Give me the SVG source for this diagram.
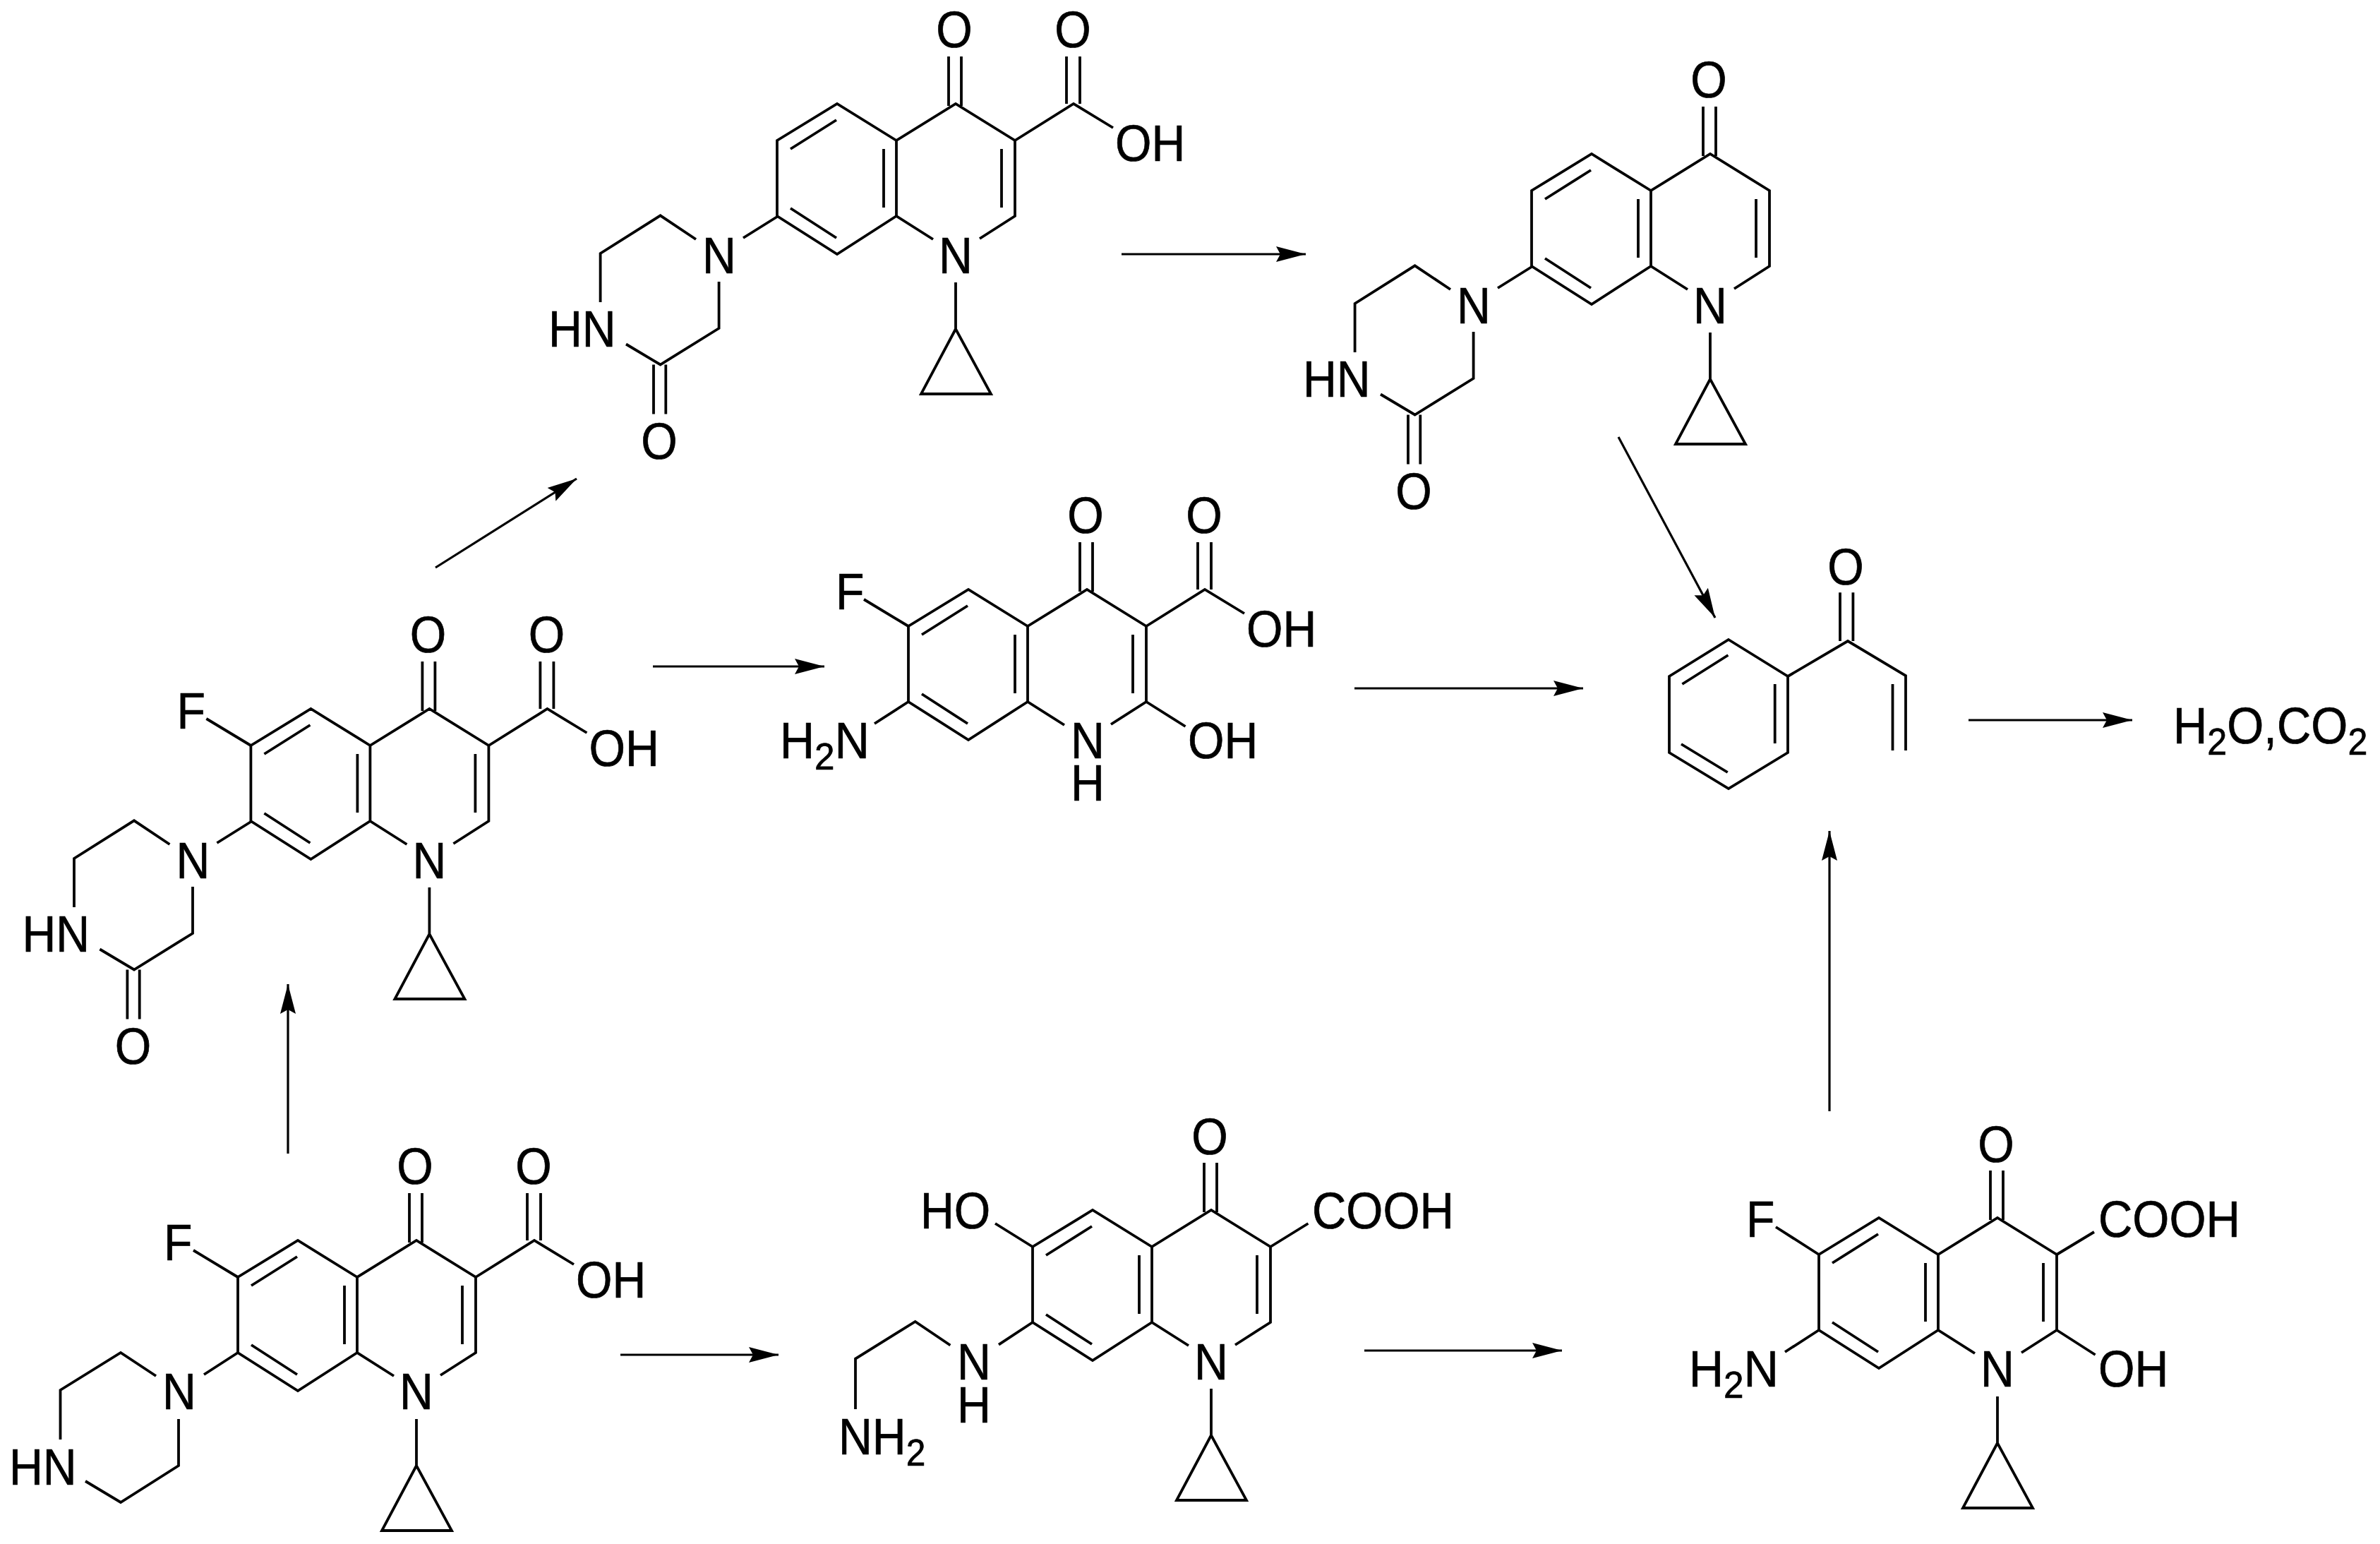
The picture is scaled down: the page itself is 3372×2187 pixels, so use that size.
<svg xmlns="http://www.w3.org/2000/svg" xmlns:xlink="http://www.w3.org/1999/xlink" width="3372" height="2187" viewBox="0 0 3372 2187">
<style>
.b{fill:none;stroke:#000;stroke-width:3.8;stroke-linejoin:miter}
.a{fill:none;stroke:#000;stroke-width:3.2;marker-end:url(#ah)}
.t{font-family:"Liberation Sans",Arial,sans-serif;font-size:72px;fill:#000;stroke:#000;stroke-width:.7}
.m{text-anchor:middle}
.e{text-anchor:end}
.s{font-size:54px}
</style>
<defs>
<marker id="ah" markerUnits="userSpaceOnUse" markerWidth="44" markerHeight="26" refX="42" refY="13" orient="auto"><path d="M0 2L42 13L0 24L6 13Z" fill="#000"/></marker>
<g id="core" class="b">
<path d="M-32 192L-84 159V52L0 0L84 52V159L34 191M-84 52L-168 0L-253 52V159L-168 213L-84 159"/>
<path d="M-234 64L-169 23M-234 148L-169 190M-102 64V147M65 64V147M-10 -67V3M8 -67V3"/>
</g>
<g id="cp" class="b"><path d="M0 253V319M0 319L-49 411H50Z"/></g>
<g id="acid" class="b"><path d="M84 52L167 0L223 34M157 -67V0M176 -67V0"/></g>
<g id="pip" class="b">
<path d="M-253 160L-301 190M-368 192L-418.4 158.3L-503.4 212V281M-335.4 252V318L-418.4 369.5L-467 340.5M-428 369.5V439.6M-410.7 369.5V439.6"/>
</g>
</defs>
<rect width="3372" height="2187" fill="#fff"/>

<g id="connectors">
<path class="a" d="M408 1634V1394"/>
<path class="a" d="M617 804L817 678"/>
<path class="a" d="M925 944H1168"/>
<path class="a" d="M1589 360H1850"/>
<path class="a" d="M1919 975H2243"/>
<path class="a" d="M2293 619L2430 875"/>
<path class="a" d="M2789 1020H3021"/>
<path class="a" d="M2592 1574V1177"/>
<path class="a" d="M879 1919H1103"/>
<path class="a" d="M1933 1913H2213"/>
</g>

<g id="ciprofloxacin" transform="translate(590 1757)">
<use href="#core"/><use href="#cp"/><use href="#acid"/>
<path class="b" d="M-316 14L-253 52M-253 159L-301 190M-369 192L-419 159L-504.500 212V282M-337 253V319L-419 371L-469 341"/>
<text class="t m" transform="translate(-2 -80) scale(.92 1)">O</text>
<text class="t m" transform="translate(166 -80) scale(.92 1)">O</text>
<text class="t" transform="translate(226 81) scale(.92 1)">OH</text>
<text class="t" transform="translate(-358 28) scale(.92 1)">F</text>
<text class="t m" transform="translate(-336 239) scale(.92 1)">N</text>
<text class="t m" transform="translate(0 239) scale(.92 1)">N</text>
<text class="t" transform="translate(-577 346) scale(.92 1)">HN</text>
</g>

<g id="oxopiperazine-fluoro" transform="translate(608.400 1004)">
<use href="#core"/><use href="#cp"/><use href="#acid"/><use href="#pip"/>
<path class="b" d="M-316 14L-253 52"/>
<text class="t m" transform="translate(-2 -80) scale(.92 1)">O</text>
<text class="t m" transform="translate(166 -80) scale(.92 1)">O</text>
<text class="t" transform="translate(226 81) scale(.92 1)">OH</text>
<text class="t" transform="translate(-358 28) scale(.92 1)">F</text>
<text class="t m" transform="translate(-335 240) scale(.92 1)">N</text>
<text class="t m" transform="translate(0 240) scale(.92 1)">N</text>
<text class="t" transform="translate(-577 344) scale(.92 1)">HN</text>
<text class="t m" transform="translate(-420 503) scale(.92 1)">O</text>
</g>

<g id="oxopiperazine-defluoro" transform="translate(1354 147)">
<use href="#core"/><use href="#cp"/><use href="#acid"/><use href="#pip"/>
<text class="t m" transform="translate(-2 -80) scale(.92 1)">O</text>
<text class="t m" transform="translate(166 -80) scale(.92 1)">O</text>
<text class="t" transform="translate(226 81) scale(.92 1)">OH</text>
<text class="t m" transform="translate(-335 240) scale(.92 1)">N</text>
<text class="t m" transform="translate(0 240) scale(.92 1)">N</text>
<text class="t" transform="translate(-577 344) scale(.92 1)">HN</text>
<text class="t m" transform="translate(-420 503) scale(.92 1)">O</text>
</g>

<g id="oxopiperazine-decarboxy" transform="translate(2423 218)">
<use href="#core"/><use href="#cp"/><use href="#pip"/>
<text class="t m" transform="translate(-2 -80) scale(.92 1)">O</text>
<text class="t m" transform="translate(-335 240) scale(.92 1)">N</text>
<text class="t m" transform="translate(0 240) scale(.92 1)">N</text>
<text class="t" transform="translate(-577 344) scale(.92 1)">HN</text>
<text class="t m" transform="translate(-420 503) scale(.92 1)">O</text>
</g>

<g id="amino-hydroxy-nh" transform="translate(1540 835)">
<use href="#core"/><use href="#acid"/>
<path class="b" d="M-316 14L-253 52M-253 159L-301 190M84 159L139.500 194"/>
<text class="t m" transform="translate(-2 -80) scale(.92 1)">O</text>
<text class="t m" transform="translate(166 -80) scale(.92 1)">O</text>
<text class="t" transform="translate(226 81) scale(.92 1)">OH</text>
<text class="t" transform="translate(-356 28) scale(.92 1)">F</text>
<text class="t e" transform="translate(-308 239) scale(.95 1)">H<tspan class="s" dy="16">2</tspan><tspan dy="-16">N</tspan></text>
<text class="t m" transform="translate(1 239) scale(.92 1)">N</text>
<text class="t m" transform="translate(1 299) scale(.92 1)">H</text>
<text class="t" transform="translate(143 239) scale(.92 1)">OH</text>
</g>

<g id="ethylenediamine" transform="translate(1716 1714)">
<use href="#core"/><use href="#cp"/>
<path class="b" d="M-306 19L-253 52M-253 159L-301 190.700M84 52L137.400 19M-369.600 191.500L-419.300 158L-504 210.600V282"/>
<text class="t m" transform="translate(-2 -79) scale(.92 1)">O</text>
<text class="t" transform="translate(-412 26) scale(.92 1)">HO</text>
<text class="t" transform="translate(143 26) scale(.93 1)">COOH</text>
<text class="t m" transform="translate(-336 239.500) scale(.92 1)">N</text>
<text class="t m" transform="translate(-336 301) scale(.92 1)">H</text>
<text class="t" transform="translate(-528 346) scale(.92 1)">NH<tspan class="s" dy="16">2</tspan></text>
<text class="t m" transform="translate(0 239.500) scale(.92 1)">N</text>
</g>

<g id="amino-hydroxy-cyclopropyl" transform="translate(2830 1725)">
<use href="#core"/><use href="#cp"/>
<path class="b" d="M-314 13L-253 52M-253 159L-301 190M84 52L137 20M84 159L138.600 194"/>
<text class="t m" transform="translate(-2 -79) scale(.92 1)">O</text>
<text class="t" transform="translate(-356 27) scale(.92 1)">F</text>
<text class="t" transform="translate(143 27) scale(.93 1)">COOH</text>
<text class="t e" transform="translate(-310 239) scale(.95 1)">H<tspan class="s" dy="16">2</tspan><tspan dy="-16">N</tspan></text>
<text class="t m" transform="translate(0 239) scale(.92 1)">N</text>
<text class="t" transform="translate(143 239) scale(.92 1)">OH</text>
</g>

<g id="phenyl-vinyl-ketone">
<path class="b" d="M2449 906L2533 958V1066L2449 1117L2365 1066V958ZM2533 958L2618 908L2700 957V1063M2681.500 969V1063M2383.400 969L2448.400 928M2382 1054L2447.700 1094M2514.700 969V1053M2607 839.300V908M2625.400 839.300V908"/>
<text class="t m" transform="translate(2615 828) scale(.92 1)">O</text>
</g>

<g id="products">
<text class="t" transform="translate(3079 1053) scale(.93 1)">H<tspan class="s" dy="16">2</tspan><tspan dy="-16">O,CO</tspan><tspan class="s" dy="16">2</tspan></text>
</g>
</svg>
